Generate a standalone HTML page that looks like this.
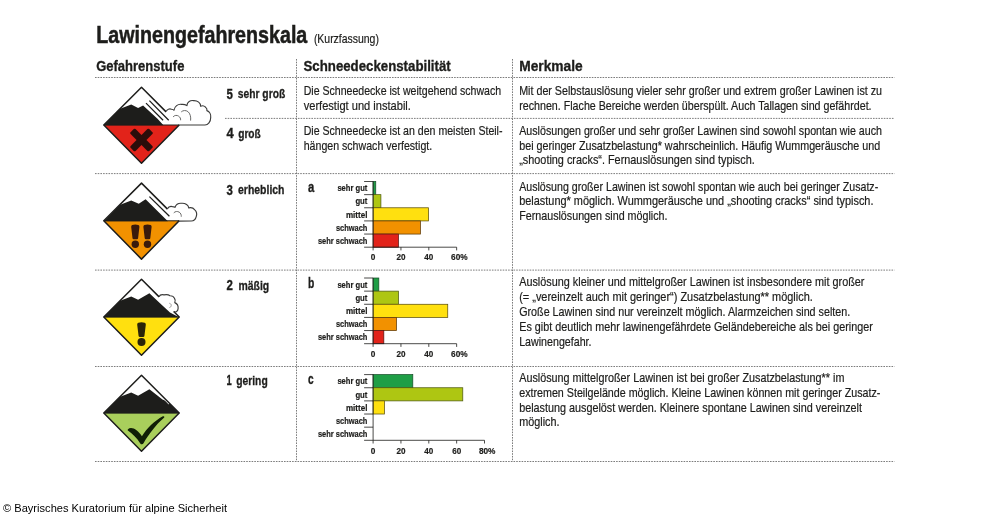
<!DOCTYPE html>
<html lang="de"><head><meta charset="utf-8"><title>Lawinengefahrenskala</title>
<style>
html,body{margin:0;padding:0;background:#fff;}
body{width:1000px;height:522px;overflow:hidden;font-family:"Liberation Sans",sans-serif;}
svg{display:block;font-family:"Liberation Sans",sans-serif;will-change:transform;}
</style></head><body>
<svg width="1000" height="522" viewBox="0 0 1000 522">
<rect width="1000" height="522" fill="#fff"/>
<text x="96.3" y="42.5" font-size="24.5" font-weight="bold" text-anchor="start" fill="#1d1d1b" textLength="211" lengthAdjust="spacingAndGlyphs" stroke="#1d1d1b" stroke-width="0.54">Lawinengefahrenskala</text>
<text x="313.9" y="42.5" font-size="13" font-weight="normal" text-anchor="start" fill="#1d1d1b" textLength="65" lengthAdjust="spacingAndGlyphs" stroke="#1d1d1b" stroke-width="0.2">(Kurzfassung)</text>
<text x="96.2" y="71.2" font-size="15.5" font-weight="bold" text-anchor="start" fill="#1d1d1b" textLength="88.2" lengthAdjust="spacingAndGlyphs" stroke="#1d1d1b" stroke-width="0.34">Gefahrenstufe</text>
<text x="303.5" y="71.2" font-size="15.5" font-weight="bold" text-anchor="start" fill="#1d1d1b" textLength="147.2" lengthAdjust="spacingAndGlyphs" stroke="#1d1d1b" stroke-width="0.34">Schneedeckenstabilität</text>
<text x="519.2" y="71.2" font-size="15.5" font-weight="bold" text-anchor="start" fill="#1d1d1b" textLength="63.5" lengthAdjust="spacingAndGlyphs" stroke="#1d1d1b" stroke-width="0.34">Merkmale</text>
<line x1="95" y1="77.5" x2="894.5" y2="77.5" stroke="#7c7c7c" stroke-width="1" stroke-dasharray="1.6 1.1"/>
<line x1="95" y1="173.6" x2="894.5" y2="173.6" stroke="#7c7c7c" stroke-width="1" stroke-dasharray="1.6 1.1"/>
<line x1="95" y1="270.1" x2="894.5" y2="270.1" stroke="#7c7c7c" stroke-width="1" stroke-dasharray="1.6 1.1"/>
<line x1="95" y1="366.5" x2="894.5" y2="366.5" stroke="#7c7c7c" stroke-width="1" stroke-dasharray="1.6 1.1"/>
<line x1="95" y1="461.5" x2="894.5" y2="461.5" stroke="#7c7c7c" stroke-width="1" stroke-dasharray="1.6 1.1"/>
<line x1="225" y1="118.4" x2="894.5" y2="118.4" stroke="#7c7c7c" stroke-width="1" stroke-dasharray="1.6 1.1"/>
<line x1="296.5" y1="59" x2="296.5" y2="461.5" stroke="#7c7c7c" stroke-width="1" stroke-dasharray="1.6 1.1"/>
<line x1="512.5" y1="59" x2="512.5" y2="461.5" stroke="#7c7c7c" stroke-width="1" stroke-dasharray="1.6 1.1"/>
<text x="226.6" y="99" font-size="15.2" font-weight="bold" text-anchor="start" fill="#1d1d1b" textLength="6.4" lengthAdjust="spacingAndGlyphs" stroke="#1d1d1b" stroke-width="0.33">5</text>
<text x="237.8" y="98" font-size="13.6" font-weight="bold" text-anchor="start" fill="#1d1d1b" textLength="47.4" lengthAdjust="spacingAndGlyphs" stroke="#1d1d1b" stroke-width="0.3">sehr groß</text>
<text x="226.6" y="138" font-size="15.2" font-weight="bold" text-anchor="start" fill="#1d1d1b" textLength="7.2" lengthAdjust="spacingAndGlyphs" stroke="#1d1d1b" stroke-width="0.33">4</text>
<text x="238.2" y="138" font-size="13.6" font-weight="bold" text-anchor="start" fill="#1d1d1b" textLength="22.6" lengthAdjust="spacingAndGlyphs" stroke="#1d1d1b" stroke-width="0.3">groß</text>
<text x="226.6" y="195" font-size="15.2" font-weight="bold" text-anchor="start" fill="#1d1d1b" textLength="6.4" lengthAdjust="spacingAndGlyphs" stroke="#1d1d1b" stroke-width="0.33">3</text>
<text x="238" y="194" font-size="13.6" font-weight="bold" text-anchor="start" fill="#1d1d1b" textLength="46.5" lengthAdjust="spacingAndGlyphs" stroke="#1d1d1b" stroke-width="0.3">erheblich</text>
<text x="226.6" y="290" font-size="15.2" font-weight="bold" text-anchor="start" fill="#1d1d1b" textLength="6.4" lengthAdjust="spacingAndGlyphs" stroke="#1d1d1b" stroke-width="0.33">2</text>
<text x="238.4" y="290" font-size="13.6" font-weight="bold" text-anchor="start" fill="#1d1d1b" textLength="30.8" lengthAdjust="spacingAndGlyphs" stroke="#1d1d1b" stroke-width="0.3">mäßig</text>
<text x="226.6" y="385" font-size="15.2" font-weight="bold" text-anchor="start" fill="#1d1d1b" textLength="5.2" lengthAdjust="spacingAndGlyphs" stroke="#1d1d1b" stroke-width="0.33">1</text>
<text x="236.2" y="385" font-size="13.6" font-weight="bold" text-anchor="start" fill="#1d1d1b" textLength="31.5" lengthAdjust="spacingAndGlyphs" stroke="#1d1d1b" stroke-width="0.3">gering</text>
<text x="303.7" y="95" font-size="12.7" font-weight="normal" text-anchor="start" fill="#1d1d1b" textLength="197.4" lengthAdjust="spacingAndGlyphs" stroke="#1d1d1b" stroke-width="0.2">Die Schneedecke ist weitgehend schwach</text>
<text x="303.7" y="110" font-size="12.7" font-weight="normal" text-anchor="start" fill="#1d1d1b" textLength="107.2" lengthAdjust="spacingAndGlyphs" stroke="#1d1d1b" stroke-width="0.2">verfestigt und instabil.</text>
<text x="303.7" y="135" font-size="12.7" font-weight="normal" text-anchor="start" fill="#1d1d1b" textLength="198.8" lengthAdjust="spacingAndGlyphs" stroke="#1d1d1b" stroke-width="0.2">Die Schneedecke ist an den meisten Steil-</text>
<text x="303.7" y="150" font-size="12.7" font-weight="normal" text-anchor="start" fill="#1d1d1b" textLength="128.5" lengthAdjust="spacingAndGlyphs" stroke="#1d1d1b" stroke-width="0.2">hängen schwach verfestigt.</text>
<text x="519.2" y="95" font-size="12.7" font-weight="normal" text-anchor="start" fill="#1d1d1b" textLength="362.8" lengthAdjust="spacingAndGlyphs" stroke="#1d1d1b" stroke-width="0.2">Mit der Selbstauslösung vieler sehr großer und extrem großer Lawinen ist zu</text>
<text x="519.2" y="110" font-size="12.7" font-weight="normal" text-anchor="start" fill="#1d1d1b" textLength="352.4" lengthAdjust="spacingAndGlyphs" stroke="#1d1d1b" stroke-width="0.2">rechnen. Flache Bereiche werden überspült. Auch Tallagen sind gefährdet.</text>
<text x="519.2" y="135" font-size="12.7" font-weight="normal" text-anchor="start" fill="#1d1d1b" textLength="362.8" lengthAdjust="spacingAndGlyphs" stroke="#1d1d1b" stroke-width="0.2">Auslösungen großer und sehr großer Lawinen sind sowohl spontan wie auch</text>
<text x="519.2" y="150" font-size="12.7" font-weight="normal" text-anchor="start" fill="#1d1d1b" textLength="361.0" lengthAdjust="spacingAndGlyphs" stroke="#1d1d1b" stroke-width="0.2">bei geringer Zusatzbelastung* wahrscheinlich. Häufig Wummgeräusche und</text>
<text x="519.2" y="164" font-size="12.7" font-weight="normal" text-anchor="start" fill="#1d1d1b" textLength="235.6" lengthAdjust="spacingAndGlyphs" stroke="#1d1d1b" stroke-width="0.2">„shooting cracks“. Fernauslösungen sind typisch.</text>
<text x="519.2" y="191" font-size="12.7" font-weight="normal" text-anchor="start" fill="#1d1d1b" textLength="359.0" lengthAdjust="spacingAndGlyphs" stroke="#1d1d1b" stroke-width="0.2">Auslösung großer Lawinen ist sowohl spontan wie auch bei geringer Zusatz-</text>
<text x="519.2" y="205" font-size="12.7" font-weight="normal" text-anchor="start" fill="#1d1d1b" textLength="354.3" lengthAdjust="spacingAndGlyphs" stroke="#1d1d1b" stroke-width="0.2">belastung* möglich. Wummgeräusche und „shooting cracks“ sind typisch.</text>
<text x="519.2" y="220" font-size="12.7" font-weight="normal" text-anchor="start" fill="#1d1d1b" textLength="148.3" lengthAdjust="spacingAndGlyphs" stroke="#1d1d1b" stroke-width="0.2">Fernauslösungen sind möglich.</text>
<text x="519.2" y="286" font-size="12.7" font-weight="normal" text-anchor="start" fill="#1d1d1b" textLength="345.3" lengthAdjust="spacingAndGlyphs" stroke="#1d1d1b" stroke-width="0.2">Auslösung kleiner und mittelgroßer Lawinen ist insbesondere mit großer</text>
<text x="519.2" y="301" font-size="12.7" font-weight="normal" text-anchor="start" fill="#1d1d1b" textLength="293.6" lengthAdjust="spacingAndGlyphs" stroke="#1d1d1b" stroke-width="0.2">(= „vereinzelt auch mit geringer“) Zusatzbelastung** möglich.</text>
<text x="519.2" y="316" font-size="12.7" font-weight="normal" text-anchor="start" fill="#1d1d1b" textLength="331.0" lengthAdjust="spacingAndGlyphs" stroke="#1d1d1b" stroke-width="0.2">Große Lawinen sind nur vereinzelt möglich. Alarmzeichen sind selten.</text>
<text x="519.2" y="331" font-size="12.7" font-weight="normal" text-anchor="start" fill="#1d1d1b" textLength="353.6" lengthAdjust="spacingAndGlyphs" stroke="#1d1d1b" stroke-width="0.2">Es gibt deutlich mehr lawinengefährdete Geländebereiche als bei geringer</text>
<text x="519.2" y="346" font-size="12.7" font-weight="normal" text-anchor="start" fill="#1d1d1b" textLength="72.3" lengthAdjust="spacingAndGlyphs" stroke="#1d1d1b" stroke-width="0.2">Lawinengefahr.</text>
<text x="519.2" y="382" font-size="12.7" font-weight="normal" text-anchor="start" fill="#1d1d1b" textLength="325.2" lengthAdjust="spacingAndGlyphs" stroke="#1d1d1b" stroke-width="0.2">Auslösung mittelgroßer Lawinen ist bei großer Zusatzbelastung** im</text>
<text x="519.2" y="397" font-size="12.7" font-weight="normal" text-anchor="start" fill="#1d1d1b" textLength="361.2" lengthAdjust="spacingAndGlyphs" stroke="#1d1d1b" stroke-width="0.2">extremen Steilgelände möglich. Kleine Lawinen können mit geringer Zusatz-</text>
<text x="519.2" y="412" font-size="12.7" font-weight="normal" text-anchor="start" fill="#1d1d1b" textLength="342.8" lengthAdjust="spacingAndGlyphs" stroke="#1d1d1b" stroke-width="0.2">belastung ausgelöst werden. Kleinere spontane Lawinen sind vereinzelt</text>
<text x="519.2" y="426" font-size="12.7" font-weight="normal" text-anchor="start" fill="#1d1d1b" textLength="40.3" lengthAdjust="spacingAndGlyphs" stroke="#1d1d1b" stroke-width="0.2">möglich.</text>
<rect x="373.1" y="181.50" width="2.65" height="13.14" fill="#1f9e46" stroke="#17502a" stroke-width="0.75"/>
<rect x="373.1" y="194.64" width="7.80" height="13.14" fill="#aec612" stroke="#4f5a12" stroke-width="0.75"/>
<rect x="373.1" y="207.78" width="55.42" height="13.14" fill="#ffe00f" stroke="#5c500c" stroke-width="0.75"/>
<rect x="373.1" y="220.92" width="47.34" height="13.14" fill="#f29100" stroke="#5e3a08" stroke-width="0.75"/>
<rect x="373.1" y="234.06" width="25.34" height="13.14" fill="#e2231a" stroke="#5a1410" stroke-width="0.75"/>
<path d="M373.1 181.5V247.2M364.1 247.2H456.65M364.1 181.50H373.1M364.1 194.64H373.1M364.1 207.78H373.1M364.1 220.92H373.1M364.1 234.06H373.1M373.10 247.2v3.2M400.95 247.2v3.2M428.80 247.2v3.2M456.65 247.2v3.2" stroke="#1d1d1b" stroke-width="0.8" fill="none"/>
<text x="367.4" y="191.3" font-size="9.8" font-weight="bold" text-anchor="end" fill="#1d1d1b" textLength="30" lengthAdjust="spacingAndGlyphs" stroke="#1d1d1b" stroke-width="0.22">sehr gut</text>
<text x="367.4" y="204.44" font-size="9.8" font-weight="bold" text-anchor="end" fill="#1d1d1b" textLength="12" lengthAdjust="spacingAndGlyphs" stroke="#1d1d1b" stroke-width="0.22">gut</text>
<text x="367.4" y="217.58" font-size="9.8" font-weight="bold" text-anchor="end" fill="#1d1d1b" textLength="21.5" lengthAdjust="spacingAndGlyphs" stroke="#1d1d1b" stroke-width="0.22">mittel</text>
<text x="367.4" y="230.72" font-size="9.8" font-weight="bold" text-anchor="end" fill="#1d1d1b" textLength="31.5" lengthAdjust="spacingAndGlyphs" stroke="#1d1d1b" stroke-width="0.22">schwach</text>
<text x="367.4" y="243.86" font-size="9.8" font-weight="bold" text-anchor="end" fill="#1d1d1b" textLength="49.5" lengthAdjust="spacingAndGlyphs" stroke="#1d1d1b" stroke-width="0.22">sehr schwach</text>
<text x="370.8" y="260.4" font-size="9.3" font-weight="bold" text-anchor="start" fill="#1d1d1b" textLength="4.6" lengthAdjust="spacingAndGlyphs" stroke="#1d1d1b" stroke-width="0.2">0</text>
<text x="396.45" y="260.4" font-size="9.3" font-weight="bold" text-anchor="start" fill="#1d1d1b" textLength="9" lengthAdjust="spacingAndGlyphs" stroke="#1d1d1b" stroke-width="0.2">20</text>
<text x="424.3" y="260.4" font-size="9.3" font-weight="bold" text-anchor="start" fill="#1d1d1b" textLength="9" lengthAdjust="spacingAndGlyphs" stroke="#1d1d1b" stroke-width="0.2">40</text>
<text x="451.05" y="260.4" font-size="9.3" font-weight="bold" text-anchor="start" fill="#1d1d1b" textLength="16.6" lengthAdjust="spacingAndGlyphs" stroke="#1d1d1b" stroke-width="0.2">60%</text>
<text x="307.9" y="192" font-size="15.5" font-weight="bold" text-anchor="start" fill="#1d1d1b" textLength="6.3" lengthAdjust="spacingAndGlyphs" stroke="#1d1d1b" stroke-width="0.34">a</text>
<rect x="373.1" y="278.00" width="5.71" height="13.14" fill="#1f9e46" stroke="#17502a" stroke-width="0.75"/>
<rect x="373.1" y="291.14" width="25.34" height="13.14" fill="#aec612" stroke="#4f5a12" stroke-width="0.75"/>
<rect x="373.1" y="304.28" width="74.64" height="13.14" fill="#ffe00f" stroke="#5c500c" stroke-width="0.75"/>
<rect x="373.1" y="317.42" width="23.39" height="13.14" fill="#f29100" stroke="#5e3a08" stroke-width="0.75"/>
<rect x="373.1" y="330.56" width="10.72" height="13.14" fill="#e2231a" stroke="#5a1410" stroke-width="0.75"/>
<path d="M373.1 278V343.7M364.1 343.7H456.65M364.1 278.00H373.1M364.1 291.14H373.1M364.1 304.28H373.1M364.1 317.42H373.1M364.1 330.56H373.1M373.10 343.7v3.2M400.95 343.7v3.2M428.80 343.7v3.2M456.65 343.7v3.2" stroke="#1d1d1b" stroke-width="0.8" fill="none"/>
<text x="367.4" y="287.8" font-size="9.8" font-weight="bold" text-anchor="end" fill="#1d1d1b" textLength="30" lengthAdjust="spacingAndGlyphs" stroke="#1d1d1b" stroke-width="0.22">sehr gut</text>
<text x="367.4" y="300.94" font-size="9.8" font-weight="bold" text-anchor="end" fill="#1d1d1b" textLength="12" lengthAdjust="spacingAndGlyphs" stroke="#1d1d1b" stroke-width="0.22">gut</text>
<text x="367.4" y="314.08" font-size="9.8" font-weight="bold" text-anchor="end" fill="#1d1d1b" textLength="21.5" lengthAdjust="spacingAndGlyphs" stroke="#1d1d1b" stroke-width="0.22">mittel</text>
<text x="367.4" y="327.22" font-size="9.8" font-weight="bold" text-anchor="end" fill="#1d1d1b" textLength="31.5" lengthAdjust="spacingAndGlyphs" stroke="#1d1d1b" stroke-width="0.22">schwach</text>
<text x="367.4" y="340.36" font-size="9.8" font-weight="bold" text-anchor="end" fill="#1d1d1b" textLength="49.5" lengthAdjust="spacingAndGlyphs" stroke="#1d1d1b" stroke-width="0.22">sehr schwach</text>
<text x="370.8" y="356.9" font-size="9.3" font-weight="bold" text-anchor="start" fill="#1d1d1b" textLength="4.6" lengthAdjust="spacingAndGlyphs" stroke="#1d1d1b" stroke-width="0.2">0</text>
<text x="396.45" y="356.9" font-size="9.3" font-weight="bold" text-anchor="start" fill="#1d1d1b" textLength="9" lengthAdjust="spacingAndGlyphs" stroke="#1d1d1b" stroke-width="0.2">20</text>
<text x="424.3" y="356.9" font-size="9.3" font-weight="bold" text-anchor="start" fill="#1d1d1b" textLength="9" lengthAdjust="spacingAndGlyphs" stroke="#1d1d1b" stroke-width="0.2">40</text>
<text x="451.05" y="356.9" font-size="9.3" font-weight="bold" text-anchor="start" fill="#1d1d1b" textLength="16.6" lengthAdjust="spacingAndGlyphs" stroke="#1d1d1b" stroke-width="0.2">60%</text>
<text x="307.9" y="288" font-size="15.5" font-weight="bold" text-anchor="start" fill="#1d1d1b" textLength="6.3" lengthAdjust="spacingAndGlyphs" stroke="#1d1d1b" stroke-width="0.34">b</text>
<rect x="373.1" y="374.60" width="39.69" height="13.14" fill="#1f9e46" stroke="#17502a" stroke-width="0.75"/>
<rect x="373.1" y="387.74" width="89.68" height="13.14" fill="#aec612" stroke="#4f5a12" stroke-width="0.75"/>
<rect x="373.1" y="400.88" width="11.28" height="13.14" fill="#ffe00f" stroke="#5c500c" stroke-width="0.75"/>
<path d="M373.1 374.6V440.3M364.1 440.3H484.5M364.1 374.60H373.1M364.1 387.74H373.1M364.1 400.88H373.1M364.1 414.02H373.1M364.1 427.16H373.1M373.10 440.3v3.2M400.95 440.3v3.2M428.80 440.3v3.2M456.65 440.3v3.2M484.50 440.3v3.2" stroke="#1d1d1b" stroke-width="0.8" fill="none"/>
<text x="367.4" y="384.4" font-size="9.8" font-weight="bold" text-anchor="end" fill="#1d1d1b" textLength="30" lengthAdjust="spacingAndGlyphs" stroke="#1d1d1b" stroke-width="0.22">sehr gut</text>
<text x="367.4" y="397.54" font-size="9.8" font-weight="bold" text-anchor="end" fill="#1d1d1b" textLength="12" lengthAdjust="spacingAndGlyphs" stroke="#1d1d1b" stroke-width="0.22">gut</text>
<text x="367.4" y="410.68" font-size="9.8" font-weight="bold" text-anchor="end" fill="#1d1d1b" textLength="21.5" lengthAdjust="spacingAndGlyphs" stroke="#1d1d1b" stroke-width="0.22">mittel</text>
<text x="367.4" y="423.82" font-size="9.8" font-weight="bold" text-anchor="end" fill="#1d1d1b" textLength="31.5" lengthAdjust="spacingAndGlyphs" stroke="#1d1d1b" stroke-width="0.22">schwach</text>
<text x="367.4" y="436.96" font-size="9.8" font-weight="bold" text-anchor="end" fill="#1d1d1b" textLength="49.5" lengthAdjust="spacingAndGlyphs" stroke="#1d1d1b" stroke-width="0.22">sehr schwach</text>
<text x="370.8" y="453.5" font-size="9.3" font-weight="bold" text-anchor="start" fill="#1d1d1b" textLength="4.6" lengthAdjust="spacingAndGlyphs" stroke="#1d1d1b" stroke-width="0.2">0</text>
<text x="396.45" y="453.5" font-size="9.3" font-weight="bold" text-anchor="start" fill="#1d1d1b" textLength="9" lengthAdjust="spacingAndGlyphs" stroke="#1d1d1b" stroke-width="0.2">20</text>
<text x="424.3" y="453.5" font-size="9.3" font-weight="bold" text-anchor="start" fill="#1d1d1b" textLength="9" lengthAdjust="spacingAndGlyphs" stroke="#1d1d1b" stroke-width="0.2">40</text>
<text x="452.15" y="453.5" font-size="9.3" font-weight="bold" text-anchor="start" fill="#1d1d1b" textLength="9" lengthAdjust="spacingAndGlyphs" stroke="#1d1d1b" stroke-width="0.2">60</text>
<text x="478.9" y="453.5" font-size="9.3" font-weight="bold" text-anchor="start" fill="#1d1d1b" textLength="16.6" lengthAdjust="spacingAndGlyphs" stroke="#1d1d1b" stroke-width="0.2">80%</text>
<text x="307.9" y="384" font-size="15.5" font-weight="bold" text-anchor="start" fill="#1d1d1b" textLength="5.6" lengthAdjust="spacingAndGlyphs" stroke="#1d1d1b" stroke-width="0.34">c</text>
<g transform="translate(141.5 125)">
<path d="M-37.7 0L0 -37.7L37.7 0Z" fill="#fff"/>
<path d="M-37.7 0H37.7L0 38.300000000000004Z" fill="#e2231a"/>
<clipPath id="clip5"><path d="M-37.7 0.6L0 -37.7L37.7 0.6Z"/></clipPath>
<path d="M-38.4 0.6L-22 -15.9L-10.25 -20.6L-3.4 -16.9L1.6 -19.4L16 -6.25L22.2 0.6Z" fill="#1d1d1b" clip-path="url(#clip5)"/>
<path d="M4.5 -21.9L21.6 -4.75M7.9 -24.4L27.2 -4.75" stroke="#1d1d1b" stroke-width="1.25" fill="none"/>
<path d="M24.6 -13.100000000000001L0 -37.7L-37.7 0L0 38.300000000000004L37.7 0" fill="none" stroke="#1d1d1b" stroke-width="1.5" stroke-linejoin="round"/>
<path d="M24.75 -13.75C25.5 -15.6 28 -16.6 30 -15.7C31 -15.5 32 -15.2 32.5 -14.75C33 -18.5 36.5 -21.3 40 -20.6C42 -20.8 44 -20.3 45.4 -19.4C45.6 -23 49 -25 52 -24.4C56 -24.6 59.4 -22 59.1 -18.75C61 -19.5 63.5 -19 64.4 -17.4C65.3 -16.6 65.6 -15.5 65.4 -14.4C68 -13.5 69.6 -10.5 69.2 -7.5C69.2 -3 66.5 0 63.5 0H37" fill="none" stroke="#3c3c3b" stroke-width="1.15" stroke-linejoin="round"/>
<path d="M31.6 -8.1C33 -9.9 35.5 -10 37 -8.9C38.6 -8 39.3 -6.3 39.1 -4.75M39.75 -13.1C41.5 -14.8 44.5 -14.9 46.4 -13.4C48.6 -11.8 49.6 -8 49.1 -4.4" fill="none" stroke="#6a6a69" stroke-width="1.0"/>
<path d="M-37.7 0H37.7" stroke="#1d1d1b" stroke-width="1.0"/>
<g transform="translate(0 15) rotate(45)" fill="#2b0d0a"><rect x="-13.2" y="-3.5" width="26.4" height="7" rx="1.3"/><rect x="-3.5" y="-13.2" width="7" height="26.4" rx="1.3"/></g>
</g>
<g transform="translate(141.5 220.8)">
<path d="M-37.7 0L0 -37.7L37.7 0Z" fill="#fff"/>
<path d="M-37.7 0H37.7L0 38.300000000000004Z" fill="#f29100"/>
<clipPath id="clip3"><path d="M-37.7 0.6L0 -37.7L37.7 0.6Z"/></clipPath>
<path d="M-38.4 0.6L-22 -15.9L-10.25 -20.3L-2.75 -17L4.1 -21.6L26.6 0.6Z" fill="#1d1d1b" clip-path="url(#clip3)"/>
<path d="M7.9 -24.15L27.9 -4.5" stroke="#1d1d1b" stroke-width="1.25" fill="none"/>
<path d="M26 -11.700000000000003L0 -37.7L-37.7 0L0 38.300000000000004L37.7 0" fill="none" stroke="#1d1d1b" stroke-width="1.5" stroke-linejoin="round"/>
<path d="M26 -12C26.8 -13.8 29 -14.7 31 -14.2C32 -14.2 33 -13.9 33.5 -13.5C34.5 -16.3 37.5 -17.9 40.5 -17.5C44 -17.6 47 -15.5 47.25 -12.9C49.5 -13.6 52 -12.6 53.3 -11C55 -9.3 55.5 -6.5 54.8 -4.4C54.2 -1.6 52.3 0.2 49.75 0.25H37" fill="none" stroke="#3c3c3b" stroke-width="1.15" stroke-linejoin="round"/>
<path d="M32.25 -7.9C33.6 -9.5 36 -9.7 37.6 -8.7C39.2 -7.8 40 -5.9 39.75 -4.1" fill="none" stroke="#6a6a69" stroke-width="1.0"/>
<path d="M-37.7 0H37.7" stroke="#1d1d1b" stroke-width="1.0"/>
<g transform="translate(-6.2 0)" fill="#3a1a0c"><path d="M-3.1 4.2Q0 3.4 3.1 4.2Q4.3 4.6 4.1 6.2L2.8 17.4Q2.6 18.5 1.6 18.5H-1.6Q-2.6 18.5 -2.8 17.4L-4.1 6.2Q-4.3 4.6 -3.1 4.2Z"/><circle cx="0" cy="23.5" r="3.7"/></g>
<g transform="translate(6.0 0)" fill="#3a1a0c"><path d="M-3.1 4.2Q0 3.4 3.1 4.2Q4.3 4.6 4.1 6.2L2.8 17.4Q2.6 18.5 1.6 18.5H-1.6Q-2.6 18.5 -2.8 17.4L-4.1 6.2Q-4.3 4.6 -3.1 4.2Z"/><circle cx="0" cy="23.5" r="3.7"/></g>
</g>
<g transform="translate(141.5 317)">
<path d="M-37.7 0L0 -37.7L37.7 0Z" fill="#fff"/>
<path d="M-37.7 0H37.7L0 38.300000000000004Z" fill="#ffe00f"/>
<clipPath id="clip2"><path d="M-37.7 0.6L0 -37.7L37.7 0.6Z"/></clipPath>
<path d="M-38.4 0.6L-22 -15.9L-10.25 -20.6L-3.4 -17.25L7.9 -23.75L18.5 -13.75L28.5 -4.4L38.4 0.6Z" fill="#1d1d1b" clip-path="url(#clip2)"/>
<path d="M17.6 -20.1L0 -37.7L-37.7 0L0 38.300000000000004L37.7 0L32.2 -5.5" fill="none" stroke="#1d1d1b" stroke-width="1.5" stroke-linejoin="round"/>
<path d="M17.5 -20.2C18.3 -22 20.5 -22.6 22.5 -22.1C24.5 -22.6 27 -22.4 28.5 -21.25C30.5 -21.3 32.3 -20.3 33 -18.6C33.9 -17.3 33.9 -15.6 33.25 -14.4C35.5 -13.4 36.9 -10.9 36.6 -8.4C36.4 -5.8 34.3 -4.2 32.2 -5.4" fill="none" stroke="#3c3c3b" stroke-width="1.15" stroke-linejoin="round"/>
<path d="M27.9 -13.75C29.3 -13.4 29.9 -12.3 29.7 -11.3C29.6 -10.4 28.9 -9.6 27.9 -9.4" fill="none" stroke="#7d7d7c" stroke-width="0.8"/>
<path d="M-37.7 0H37.7" stroke="#1d1d1b" stroke-width="1.0"/>
<g fill="#2a2408"><path d="M-3.2 5.7Q0 4.9 3.2 5.7Q4.5 6.1 4.3 7.7L2.9 19Q2.7 20.1 1.7 20.1H-1.7Q-2.7 20.1 -2.9 19L-4.3 7.7Q-4.5 6.1 -3.2 5.7Z"/><circle cx="0" cy="25" r="4"/></g>
</g>
<g transform="translate(141.5 413)">
<path d="M-37.7 0L0 -37.7L37.7 0Z" fill="#fff"/>
<path d="M-37.7 0H37.7L0 38.300000000000004Z" fill="#a9cf5c"/>
<clipPath id="clip1"><path d="M-37.7 0.6L0 -37.7L37.7 0.6Z"/></clipPath>
<path d="M-38.4 0.6L-22 -15.9L-10.25 -20.6L-3.4 -17.25L7.9 -23.75L21 -13.5L30 -10L38.4 0.6Z" fill="#1d1d1b" clip-path="url(#clip1)"/>
<path d="M22 -14.6L27.2 -9.4" stroke="#fff" stroke-width="1.3" stroke-linecap="round" fill="none"/>
<path d="M-37.7 0L0 -37.7L37.7 0L0 38.300000000000004Z" fill="none" stroke="#1d1d1b" stroke-width="1.5" stroke-linejoin="round"/>
<path d="M-37.7 0H37.7" stroke="#1d1d1b" stroke-width="1.0"/>
<path d="M-13.5 16.2C-11.8 14.4 -8 14.8 -5 17.2C-3 18.8 -1 21 0.4 23.2C5 16 13 7.6 21.4 3.3C22.9 2.7 23.4 4.2 22.2 5.1C14.2 12 7.2 21.6 2 30.2C1.3 31.6 -0.5 31.7 -1.2 30.4C-4.6 25.2 -9 20.7 -13.3 17.8C-14 17.3 -14 16.7 -13.5 16.2Z" fill="#101f06"/>
</g>
<text x="3" y="512" font-size="11.2" fill="#000" textLength="224" lengthAdjust="spacingAndGlyphs">© Bayrisches Kuratorium für alpine Sicherheit</text>
</svg>
</body></html>
